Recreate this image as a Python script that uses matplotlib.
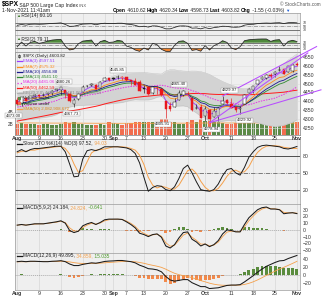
import matplotlib
matplotlib.use('Agg')
import matplotlib.pyplot as plt
import numpy as np
import pandas as pd

plt.rcParams['font.family'] = ['Liberation Sans', 'DejaVu Sans']

# ---------------- data ----------------
dates = [d for d in pd.bdate_range('2021-08-02', '2021-11-01')
         if d != pd.Timestamp('2021-09-06')]          # Labor Day closed

tick_dates = ['2021-08-02', '2021-08-09', '2021-08-16', '2021-08-23', '2021-08-30',
              '2021-09-01', '2021-09-07', '2021-09-13', '2021-09-20', '2021-09-27',
              '2021-10-01', '2021-10-11', '2021-10-18', '2021-10-25', '2021-11-01']
tick_labels = ['Aug', '9', '16', '23', '30', 'Sep', '7', '13', '20', '27',
               'Oct', '11', '18', '25', 'Nov']
months = ['Aug', 'Sep', 'Oct', 'Nov']

prev_close = 4395.26   # Jul 30 close, colours the first bar

open_ = [4406.86, 4392.74, 4415.95, 4408.86, 4429.07,
         4437.77, 4435.79, 4442.18, 4446.08, 4464.84,
         4461.65, 4462.12, 4440.94, 4382.44, 4410.56,
         4450.29, 4484.40, 4490.45, 4493.75, 4474.10,
         4513.76, 4529.75, 4528.80, 4534.48, 4532.42,
         4535.38, 4518.09, 4513.02, 4506.92,
         4474.81, 4479.33, 4447.49, 4477.09, 4469.74,
         4402.95, 4374.45, 4367.43, 4406.75, 4438.04,
         4442.12, 4419.54, 4362.41, 4370.67, 4317.16,
         4348.84, 4309.87, 4319.57, 4383.73, 4406.51,
         4385.44, 4368.31, 4358.01, 4386.75, 4447.69,
         4463.72, 4497.34, 4524.42, 4532.24, 4546.12,
         4553.69, 4578.69, 4580.22, 4562.84, 4572.87,
         4610.62]
high = [4422.18, 4423.79, 4416.17, 4429.76, 4440.82,
        4439.39, 4445.21, 4449.44, 4461.77, 4468.37,
        4480.26, 4462.12, 4454.32, 4418.61, 4444.35,
        4489.88, 4492.81, 4501.71, 4495.90, 4513.33,
        4537.36, 4531.39, 4537.11, 4545.85, 4541.45,
        4535.38, 4521.79, 4529.90, 4520.47,
        4492.99, 4485.68, 4486.87, 4485.87, 4471.52,
        4402.95, 4394.87, 4416.75, 4465.40, 4463.12,
        4457.30, 4419.54, 4385.57, 4382.55, 4375.19,
        4355.51, 4369.23, 4365.57, 4429.97, 4412.02,
        4415.88, 4374.89, 4372.87, 4439.73, 4475.82,
        4488.75, 4520.40, 4540.87, 4551.44, 4559.67,
        4572.62, 4598.53, 4584.57, 4597.55, 4608.08,
        4620.34]
low = [4384.81, 4373.00, 4400.23, 4408.86, 4429.07,
       4424.74, 4430.03, 4436.42, 4435.96, 4460.82,
       4437.66, 4417.83, 4397.59, 4367.73, 4406.80,
       4450.29, 4482.28, 4485.66, 4468.99, 4474.10,
       4513.76, 4515.80, 4522.02, 4524.66, 4521.94,
       4513.00, 4493.95, 4492.07, 4457.66,
       4445.70, 4435.46, 4438.37, 4443.80, 4427.76,
       4305.91, 4347.96, 4367.43, 4406.75, 4430.27,
       4436.19, 4346.33, 4355.08, 4306.24, 4288.52,
       4278.94, 4309.87, 4290.49, 4383.73, 4386.22,
       4360.59, 4342.09, 4329.92, 4386.75, 4447.69,
       4447.47, 4496.41, 4524.40, 4526.89, 4524.00,
       4537.36, 4569.17, 4551.66, 4562.84, 4567.59,
       4598.73]
close = [4387.16, 4423.15, 4402.66, 4429.10, 4436.52,
         4432.35, 4436.75, 4447.70, 4460.83, 4468.00,
         4479.71, 4448.08, 4400.27, 4405.80, 4441.67,
         4479.53, 4486.23, 4496.19, 4470.00, 4509.37,
         4528.79, 4522.68, 4524.09, 4536.95, 4535.43,
         4520.03, 4514.07, 4493.28, 4458.58,
         4468.73, 4443.05, 4480.70, 4473.75, 4432.99,
         4357.73, 4354.19, 4395.64, 4448.98, 4455.48,
         4443.11, 4352.63, 4359.46, 4307.54, 4357.04,
         4300.46, 4345.72, 4363.55, 4399.76, 4391.34,
         4361.19, 4350.65, 4363.80, 4438.26, 4471.37,
         4486.46, 4519.63, 4536.19, 4549.78, 4544.90,
         4566.48, 4574.79, 4551.68, 4596.42, 4605.38,
         4603.82]

# volume, billions
volume = [2.00, 2.10, 1.95, 1.85, 1.90,
          1.75, 1.90, 1.85, 1.80, 1.70,
          2.00, 2.25, 2.15, 2.30, 1.95,
          1.90, 1.75, 1.80, 1.75, 1.95,
          1.75, 2.35, 2.05, 1.95, 1.80,
          2.10, 2.15, 2.25, 2.20,
          2.35, 2.30, 2.20, 2.30, 2.75,
          2.80, 2.35, 2.20, 2.00, 1.85,
          2.20, 2.60, 2.35, 2.85, 2.50,
          2.60, 2.20, 2.30, 2.15, 1.90,
          1.90, 2.05, 2.15, 2.30, 2.55,
          2.05, 2.00, 2.15, 2.20, 2.20,
          2.25, 2.45, 2.65, 2.40, 2.70,
          2.30]
vol_sma50 = [2.12, 2.12, 2.11, 2.11, 2.10,
             2.10, 2.09, 2.09, 2.08, 2.08,
             2.08, 2.08, 2.08, 2.08, 2.07,
             2.07, 2.06, 2.06, 2.05, 2.05,
             2.05, 2.05, 2.05, 2.04, 2.04,
             2.04, 2.04, 2.04, 2.04,
             2.04, 2.05, 2.05, 2.05, 2.06,
             2.07, 2.07, 2.07, 2.07, 2.07,
             2.07, 2.08, 2.08, 2.09, 2.09,
             2.10, 2.10, 2.10, 2.10, 2.10,
             2.10, 2.10, 2.10, 2.11, 2.11,
             2.11, 2.11, 2.11, 2.11, 2.11,
             2.10, 2.10, 2.09, 2.09, 2.08,
             2.08]

ema3 = [4395, 4409, 4406, 4418, 4427, 4430, 4433, 4440, 4451, 4459,
        4470, 4459, 4430, 4418, 4430, 4455, 4471, 4483, 4477, 4493,
        4511, 4517, 4520, 4528, 4532, 4526, 4520, 4507, 4483,
        4476, 4460, 4470, 4472, 4452, 4405, 4380, 4388, 4418, 4437,
        4440, 4396, 4378, 4343, 4350, 4325, 4335, 4349, 4374, 4383,
        4372, 4361, 4362, 4400, 4436, 4461, 4490, 4513, 4531, 4538,
        4552, 4563, 4557, 4577, 4591, 4597.51]
ema7 = [4398, 4404, 4404, 4410, 4417, 4421, 4425, 4431, 4438, 4446,
        4454, 4453, 4440, 4431, 4434, 4445, 4455, 4465, 4466, 4477,
        4490, 4498, 4505, 4513, 4519, 4519, 4518, 4512, 4499,
        4491, 4479, 4479, 4478, 4467, 4440, 4418, 4413, 4422, 4430,
        4433, 4413, 4400, 4377, 4372, 4354, 4352, 4355, 4366, 4372,
        4369, 4364, 4364, 4383, 4405, 4425, 4449, 4471, 4491, 4504,
        4520, 4534, 4538, 4553, 4566, 4575.32]
ema10 = [4385, 4392, 4394, 4400, 4407, 4412, 4416, 4422, 4429, 4436,
         4444, 4445, 4437, 4431, 4433, 4441, 4449, 4458, 4460, 4469,
         4480, 4488, 4494, 4502, 4508, 4510, 4511, 4508, 4499,
         4494, 4485, 4484, 4482, 4473, 4452, 4434, 4427, 4431, 4435,
         4437, 4422, 4411, 4392, 4386, 4370, 4366, 4366, 4372, 4375,
         4373, 4369, 4368, 4381, 4397, 4413, 4432, 4451, 4469, 4483,
         4498, 4512, 4519, 4533, 4546, 4556.88]
ema13 = [4379, 4385, 4388, 4394, 4400, 4405, 4409, 4415, 4421, 4428,
         4436, 4437, 4432, 4427, 4429, 4437, 4444, 4451, 4454, 4462,
         4472, 4479, 4485, 4492, 4498, 4502, 4503, 4501, 4495,
         4491, 4484, 4483, 4482, 4475, 4457, 4442, 4435, 4438, 4440,
         4441, 4429, 4419, 4402, 4396, 4382, 4377, 4375, 4379, 4380,
         4378, 4374, 4372, 4382, 4395, 4409, 4425, 4441, 4457, 4470,
         4484, 4497, 4505, 4518, 4530, 4541.10]
ma20 = [4367.6, 4371.6, 4373.8, 4379.2, 4382.6, 4385.0, 4388.3, 4392.0, 4397.0, 4404.1,
        4415.1, 4421.4, 4423.5, 4425.4, 4426.9, 4429.7, 4434.0, 4438.7, 4441.3, 4447.0,
        4454.1, 4459.0, 4465.1, 4470.5, 4475.4, 4479.8, 4483.7, 4486.0, 4485.8,
        4485.9, 4484.0, 4485.7, 4489.3, 4490.7, 4486.5, 4480.2, 4475.7, 4473.3, 4472.6,
        4469.3, 4460.5, 4452.3, 4441.5, 4432.5, 4420.7, 4412.0, 4404.5, 4399.8, 4396.4,
        4391.1, 4386.4, 4380.6, 4378.8, 4380.7, 4387.2, 4395.4, 4402.5, 4407.5, 4412.0,
        4418.1, 4429.3, 4438.9, 4453.3, 4465.7, 4481.06]
ma50 = [4288.3, 4293.6, 4297.8, 4302.6, 4307.4, 4312.0, 4316.7, 4321.6, 4326.6, 4332.1,
        4337.1, 4341.6, 4345.0, 4348.8, 4352.8, 4357.5, 4362.1, 4367.1, 4372.0, 4377.8,
        4385.0, 4391.0, 4396.5, 4402.4, 4407.8, 4412.6, 4417.1, 4421.1, 4424.3,
        4427.3, 4429.1, 4431.9, 4434.2, 4436.4, 4436.2, 4435.6, 4436.1, 4437.6, 4439.5,
        4441.8, 4443.7, 4444.4, 4443.4, 4443.2, 4440.9, 4439.4, 4438.6, 4438.6, 4438.1,
        4437.4, 4436.6, 4435.5, 4436.2, 4437.0, 4438.0, 4439.8, 4441.8, 4443.8, 4445.5,
        4447.4, 4449.3, 4451.4, 4455.3, 4459.3, 4462.59]
# Bollinger band half width (2 sigma) around MA(20)
bb_half = [77, 80, 79, 81, 82, 80, 80, 80, 80, 79,
           74, 62, 56, 52, 50, 52, 55, 59, 60, 64,
           70, 74, 77, 80, 82, 80, 78, 77, 78,
           78, 76, 72, 66, 63, 84, 98, 102, 100, 98,
           100, 110, 118, 126, 128, 131, 126, 120, 112, 105,
           100, 97, 94, 92, 94, 102, 116, 130, 142, 150,
           160, 168, 173, 179, 183, 185.52]

# annotated highs / lows
ann_dates = ['2021-08-03', '2021-08-16', '2021-08-19', '2021-09-02', '2021-09-20',
             '2021-09-23', '2021-10-04', '2021-10-07', '2021-10-13']
ann_kind = ['low', 'high', 'low', 'high', 'low', 'high', 'low', 'high', 'low']

# user-drawn trend lines: two anchor points each
trend_a = [('2021-10-04', 4278.94), ('2021-10-07', 4429.97), ('2021-10-04', 4278.94)]
trend_b = [('2021-10-22', 4524.00), ('2021-10-26', 4598.53), ('2021-10-13', 4329.92)]

rsi14 = [55, 60, 56, 61, 62, 61, 62, 64, 66, 67,
         69, 60, 49, 50, 56, 62, 63, 64, 58, 64,
         67, 65, 65, 67, 67, 62, 60, 55, 47,
         50, 45, 52, 51, 44, 35, 35, 43, 51, 52,
         50, 39, 40, 35, 42, 36, 42, 45, 50, 49,
         45, 44, 46, 56, 60, 61, 65, 67, 68, 67,
         69, 70, 65, 70, 71, 69.16]
rsi2 = [40, 75, 45, 72, 80, 65, 72, 82, 90, 93,
        95, 45, 15, 22, 62, 82, 86, 90, 45, 78,
        88, 72, 75, 88, 82, 45, 35, 15, 5,
        30, 15, 65, 55, 20, 5, 4, 50, 80, 84,
        65, 12, 18, 6, 48, 15, 48, 62, 85, 72,
        30, 18, 40, 85, 92, 95, 97, 98, 98, 80,
        90, 93, 45, 80, 88, 79.11]

sto_k = [88, 92, 88, 92, 94, 94, 95, 96, 97, 98,
         98, 88, 66, 43, 44, 75, 90, 92, 90, 93,
         97, 97, 97, 97, 96, 95, 92, 85, 68,
         42, 17, 24, 27, 26, 20, 18, 25, 40, 58,
         64, 50, 34, 20, 18, 17, 20, 30, 45, 56,
         58, 50, 46, 60, 78, 88, 96, 99, 100, 99,
         98, 97, 94, 93, 95, 97.52]
sto_d = [86, 89, 89, 91, 91, 93, 94, 95, 96, 97,
         97.7, 94, 84, 66, 51, 54, 70, 86, 91, 92,
         93, 95, 97, 97, 97, 96, 94, 91, 82,
         65, 42, 28, 23, 26, 24, 21, 21, 28, 41,
         54, 57, 49, 35, 24, 18, 18, 22, 32, 44,
         53, 55, 51, 52, 61, 76, 87, 94, 98, 99,
         99, 98, 96, 95, 94, 94.03]

macd_fast = [7, 8, 7, 8, 9, 9, 9, 10, 11, 12,
             13.5, 10, -1, -4, -2, 6, 9, 11, 8, 11,
             15, 16, 16, 16, 15.5, 12, 8, 3, -5,
             -7, -10, -7, -6, -11, -24, -27, -22, -12, -4,
             -3, -14, -18, -24, -21, -25, -22, -16, -6, 0,
             -1, -3, -3, 8, 18, 24, 30, 33, 34, 31,
             31, 30, 24, 25, 25.5, 24.184]
sig_fast = [7, 7.7, 7.2, 7.7, 8.6, 8.9, 9, 9.7, 10.6, 11.5,
            12.8, 10.9, 3.0, -1.7, -1.9, 3.4, 7.1, 9.7, 8.6, 10.2,
            13.4, 15.1, 15.7, 15.9, 15.6, 13.2, 9.7, 5.2, -1.6,
            -5.2, -8.4, -7.5, -6.5, -9.5, -19.2, -24.4, -22.8, -15.6, -7.9,
            -4.6, -10.9, -15.6, -21.2, -21.1, -23.7, -22.6, -18.2, -10.1, -3.4,
            -1.8, -2.6, -2.9, 4.4, 13.5, 20.5, 26.8, 30.9, 33.0, 31.7,
            31.2, 30.4, 26.1, 25.4, 25.5, 24.824]
hist_fast = [0, 0.3, -0.2, 0.3, 0.4, 0.1, 0, 0.3, 0.4, 0.5,
             0.7, -0.9, -3.9, -2.3, -0.1, 2.6, 1.9, 1.3, -0.6, 0.8,
             1.6, 0.9, 0.3, 0.1, -0.1, -1.2, -1.7, -2.2, -3.4,
             -1.8, -1.6, 0.5, 0.5, -1.5, -4.8, -2.6, 0.8, 3.6, 3.9,
             1.6, -3.1, -2.4, -2.8, 0.1, -1.3, 0.6, 2.2, 4.1, 3.4,
             0.8, -0.4, -0.1, 3.6, 4.5, 3.5, 3.2, 2.1, 1.0, -0.7,
             -0.2, -0.4, -2.1, -0.4, 0, -0.641]

macd_slow = [34, 35, 34, 35, 35, 34.5, 34, 34, 35, 35.5,
             36.5, 34, 28, 24, 24, 27, 29, 31, 30, 32,
             34.5, 35.5, 36, 37, 37, 35.5, 34, 31, 25,
             21, 16, 15, 13, 8, -4, -13, -16, -14, -12,
             -12, -20, -25, -30, -30, -35, -34, -33, -30, -27,
             -26, -26, -25, -18, -10, -2, 7, 15, 22, 27,
             32, 36, 37, 42, 46, 49.895]
sig_slow = [33.5, 33.8, 33.8, 34.1, 34.3, 34.3, 34.2, 34.2, 34.4, 34.6,
            35.0, 34.8, 33.4, 31.5, 30.0, 29.4, 29.3, 29.6, 29.7, 30.2,
            31.0, 31.9, 32.7, 33.6, 34.3, 34.5, 34.4, 33.7, 32.0,
            29.8, 27.0, 24.6, 22.3, 19.4, 14.7, 9.2, 4.2, 0.6, -1.9,
            -3.9, -7.1, -10.7, -14.6, -17.7, -21.2, -23.8, -25.6, -26.5, -26.6,
            -26.5, -26.4, -26.1, -24.5, -21.6, -17.7, -12.8, -7.2, -1.4, 4.3,
            9.8, 15.1, 19.5, 24.5, 29.5, 34.859]
hist_slow = [0.5, 1.2, 0.2, 0.9, 0.7, 0.2, -0.2, -0.2, 0.6, 0.9,
             1.5, -0.8, -5.4, -7.5, -6.0, -2.4, -0.3, 1.4, 0.3, 1.8,
             3.5, 3.6, 3.3, 3.4, 2.7, 1.0, -0.4, -2.7, -7.0,
             -8.8, -11.0, -9.6, -9.3, -11.4, -18.7, -22.2, -20.2, -14.6, -10.1,
             -8.1, -12.9, -14.3, -15.4, -12.3, -13.8, -10.2, -7.4, -3.5, -0.4,
             0.5, 0.4, 1.1, 6.5, 11.6, 15.7, 19.8, 22.2, 23.4, 22.7,
             22.2, 20.9, 17.5, 17.5, 16.5, 15.035]

# ---------------- colours ----------------
C_EMA3, C_EMA7, C_EMA10, C_EMA13 = '#9b3cff', '#ff8c1a', '#1a1a8c', '#2f8a2f'
C_MA20, C_MA50, C_BB = '#e632e6', '#ff1a1a', '#9a9a9a'
C_UP, C_DN = '#1a1a1a', '#e8161b'
C_VUP, C_VDN = '#5b8a47', '#f26d4f'
C_ORANGE, C_GREEN = '#f5a04a', '#4c9a2a'
C_TREND = '#b84dff'
BG = '#efefef'

# ---------------- figure ----------------
W, H = 324, 300
fig = plt.figure(figsize=(W / 100, H / 100), dpi=100)
fig.patch.set_facecolor('white')

x = np.arange(len(dates))
didx = {d.strftime('%Y-%m-%d'): i for i, d in enumerate(dates)}
tick_idx = [didx[d] for d in tick_dates]


def panel(top, bottom):
    return fig.add_axes([15 / W, 1 - bottom / H, 285 / W, (bottom - top) / H])


def base(a, ylim, yticks, fs=3.7):
    a.set_facecolor(BG)
    a.set_xlim(-0.5, 64.7)
    a.set_ylim(*ylim)
    a.set_xticks(tick_idx)
    a.set_xticklabels([])
    a.grid(axis='x', color='#d2d2d2', lw=0.4)
    a.set_axisbelow(True)
    a.yaxis.tick_right()
    a.set_yticks(yticks)
    a.tick_params(length=0, labelsize=fs, pad=1.8, colors='#333333')
    for s in a.spines.values():
        s.set_color('#9a9a9a')
        s.set_linewidth(0.5)


def date_labels(a):
    a.set_xticklabels(tick_labels)
    a.tick_params(axis='x', labelbottom=True, labelsize=3.8, pad=0.8)
    for t in a.get_xticklabels():
        if t.get_text() in months:
            t.set_fontweight('bold')


ax_r14 = panel(12.5, 35)
ax_r2 = panel(35, 52)
ax = panel(52, 135)
ax_sto = panel(139, 203.5)
ax_m1 = panel(204, 252.5)
ax_m2 = panel(252.5, 290)

# RSI panels
for a, vals in ((ax_r14, rsi14), (ax_r2, rsi2)):
    base(a, (0, 128), [70, 50, 30], fs=2.5)
    v = np.array(vals, dtype=float)
    a.axhline(70, color='#555555', lw=0.55)
    a.axhline(30, color='#555555', lw=0.55)
    a.axhline(50, color='#777777', lw=0.45, ls='-.')
    a.fill_between(x, v, 70, where=v > 70, interpolate=True, color='#4f8a3c', lw=0)
    a.fill_between(x, v, 30, where=v < 30, interpolate=True, color='#f0842e', lw=0)
    a.plot(x, v, color='#222222', lw=0.55)

# price panel
o, h, l, c = (np.array(v, dtype=float) for v in (open_, high, low, close))
prev = np.r_[prev_close, c[:-1]]
up = c >= prev

vax = ax.twinx()
base(ax, (4210, 4678), list(range(4250, 4651, 50)))
ax.grid(axis='y', color='#dedede', lw=0.4)
vax.set_facecolor(BG)
vax.patch.set_visible(True)
ax.set_zorder(vax.get_zorder() + 1)
ax.patch.set_visible(False)
vax.bar(x, np.array(volume) * 1e9, width=0.78, color=np.where(up, C_VUP, C_VDN), lw=0)
vax.plot(x, np.array(vol_sma50) * 1e9, color=C_ORANGE, lw=0.6)
vax.set_ylim(0, 14.5e9)
vax.yaxis.tick_left()
vax.set_yticks([2e9, 4e9])
vax.set_yticklabels(['2B', '4B'])
vax.tick_params(length=0, labelsize=3.3, pad=1, colors='#333333')
for s in vax.spines.values():
    s.set_color('#9a9a9a')
    s.set_linewidth(0.5)

mid, dev = np.array(ma20), np.array(bb_half)
ax.fill_between(x, mid - dev, mid + dev, color='#d3d3d3', lw=0, zorder=1)
ax.plot(x, mid + dev, color='#bdbdbd', lw=0.3, zorder=1)
ax.plot(x, mid - dev, color='#bdbdbd', lw=0.3, zorder=1)
ax.plot(x, ma50, color=C_MA50, lw=0.7, zorder=2)
ax.plot(x, ma20, color=C_MA20, lw=0.7, ls=(0, (1.5, 1.2)), zorder=2)
ax.plot(x, ema13, color=C_EMA13, lw=0.6, zorder=2)
ax.plot(x, ema10, color=C_EMA10, lw=0.6, zorder=2)
ax.plot(x, ema7, color=C_EMA7, lw=0.6, zorder=2)
ax.plot(x, ema3, color=C_EMA3, lw=0.6, zorder=2)

edge = np.where(up, C_UP, C_DN)
face = np.where(c > o, '#ffffff', edge)
ax.vlines(x, l, h, colors=edge, lw=0.45, zorder=3)
ax.bar(x, np.maximum(np.abs(c - o), 0.8), bottom=np.minimum(o, c), width=0.56,
       color=face, edgecolor=edge, lw=0.35, zorder=4)

# trend lines, extended to the right past the last bar
for (da, pa), (db, pb), x_end in zip(trend_a, trend_b, (66.5, 68.5, 69.5)):
    ia, ib = didx[da], didx[db]
    k = (pb - pa) / (ib - ia)
    ax.plot([ia, x_end], [pa, pa + k * (x_end - ia)], color=C_TREND, lw=0.75,
            zorder=5, clip_on=False)

# high / low value boxes
ann_dx = [-8, 3, -2.5, 0, -3, 0, 2, 7, 4.5]     # px nudges
ann_dy = [-9.5, 5.5, -6.5, 5.5, -6.5, 5.5, -6.5, 5.5, -6.5]
for d, kind, dx, dy in zip(ann_dates, ann_kind, ann_dx, ann_dy):
    i = didx[d]
    val = high[i] if kind == 'high' else low[i]
    ax.annotate(f'{val:.2f}', (i, val), xytext=(dx * 0.72, dy * 0.72),
                textcoords='offset points', ha='center', va='center',
                fontsize=3.1, color='#222222', zorder=6,
                bbox=dict(boxstyle='square,pad=0.15', fc='white', ec='#999999', lw=0.3))

date_labels(ax)

# slow stochastics
base(ax_sto, (-5, 111), [80, 50, 20])
ax_sto.axhline(80, color='#4d4d4d', lw=0.7)
ax_sto.axhline(20, color='#4d4d4d', lw=0.7)
ax_sto.axhline(50, color='#4d4d4d', lw=0.5, ls='-.')
ax_sto.plot(x, sto_d, color=C_ORANGE, lw=0.7)
ax_sto.plot(x, sto_k, color='#1a1a1a', lw=0.7)

# MACD panels
for a, ylim, yt, m, s, hst, w in (
        (ax_m1, (-33.7, 38.5), list(range(-30, 31, 10)), macd_fast, sig_fast, hist_fast, 0.6),
        (ax_m2, (-38.7, 57.5), [-20, 0, 20, 40], macd_slow, sig_slow, hist_slow, 0.66)):
    base(a, ylim, yt)
    hv = np.array(hst)
    a.axhline(0, color='#8a8a8a', lw=0.4, ls=(0, (2, 1.5)))
    a.bar(x, hv, width=w, color=np.where(hv >= 0, '#5a8c3e', '#f2894a'), lw=0)
    a.plot(x, s, color=C_ORANGE, lw=0.6)
    a.plot(x, m, color='#1a1a1a', lw=0.75)
date_labels(ax_m2)

# ---------------- texts ----------------
ov = fig.add_axes([0, 0, 1, 1], zorder=20)
ov.set_xlim(0, W)
ov.set_ylim(H, 0)
ov.axis('off')
ov.patch.set_visible(False)


def chain(parts, x0, y0):
    """parts: (text, colour, weight, size) drawn one after another"""
    t = ov.text(x0, y0, parts[0][0], color=parts[0][1], fontweight=parts[0][2],
                fontsize=parts[0][3], va='center', ha='left')
    for s, col, wgt, sz in parts[1:]:
        t = ov.annotate(s, xy=(1, 0), xycoords=t, color=col, fontweight=wgt,
                        fontsize=sz, va='bottom', ha='left')
    return t


chain([('$SPX', 'black', 'bold', 4.8),
       (' S&P 500 Large Cap Index', '#222222', 'normal', 3.6),
       (' INX', '#555555', 'normal', 3.0)], 1.5, 4.2)
ov.text(321, 4.2, '\u00a9 StockCharts.com', fontsize=3.3, color='#555555',
        ha='right', va='center')
ov.text(1.5, 10.3, '1-Nov-2021 11:41am', fontsize=3.7, color='#222222', va='center')
chain([('Open', 'black', 'bold', 3.65), (' 4610.62 ', '#222222', 'normal', 3.65),
       ('High', 'black', 'bold', 3.65), (' 4620.34 ', '#222222', 'normal', 3.65),
       ('Low', 'black', 'bold', 3.65), (' 4598.73 ', '#222222', 'normal', 3.65),
       ('Last', 'black', 'bold', 3.65), (' 4603.82 ', '#222222', 'normal', 3.65),
       ('Chg', 'black', 'bold', 3.65), (' -1.55 (-0.03%) ', '#222222', 'normal', 3.65),
       ('\u25bc', '#1f5fd6', 'normal', 3.2)], 113, 10.3)

chain([('\u25b2', '#3d7a2a', 'normal', 3.0), (' RSI(14) 60.16', '#222222', 'normal', 3.5)], 16, 16)
chain([('\u25b2', '#3d7a2a', 'normal', 3.0), (' RSI(2) 79.11', '#222222', 'normal', 3.5)], 16, 39.5)

legend_rows = [
    ('$SPX (Daily) 4603.82', '#222222', None, '-'),
    ('EMA(3) 4597.51', C_EMA3, C_EMA3, '-'),
    ('EMA(7) 4575.32', C_EMA7, C_EMA7, '-'),
    ('EMA(10) 4556.88', C_EMA10, C_EMA10, '-'),
    ('EMA(13) 4541.10', C_EMA13, C_EMA13, '-'),
    ('MA(20) 4481.06', C_MA20, C_MA20, ':'),
    ('MA(50) 4462.59', C_MA50, C_MA50, '-'),
    ('BB(20,2.0) 4295.54 - 4481.06 - 4666.58', '#8a8a8a', '#b0b0b0', '-'),
    ('Volume undef', '#222222', C_VUP, 'sq'),
    ('Volume undef', '#222222', C_VDN, 'sq'),
    ('SMA(50) 2,082,908,672', '#e08a1a', C_ORANGE, '-'),
]
for k, (txt, tcol, mcol, style) in enumerate(legend_rows):
    yy = 56 + 5.3 * k
    if k == 0:
        ov.vlines(19, yy - 2.2, yy + 2.2, color='#222222', lw=0.4)
        ov.add_patch(plt.Rectangle((17.8, yy - 1.2), 2.4, 2.4, fc='white', ec='#222222', lw=0.4))
    elif style == 'sq':
        ov.add_patch(plt.Rectangle((17.5, yy - 1.4), 3, 2.8, fc=mcol, lw=0))
    else:
        ov.plot([16.5, 21.5], [yy, yy], color=mcol, lw=0.9, ls=style)
    ov.text(23, yy, txt, color=tcol, fontsize=3.15, va='center', ha='left')

ov.plot([16.5, 21.5], [143.5, 143.5], color='#1a1a1a', lw=0.9)
chain([('Slow STO %K(14) %D(3) 97.52,', '#222222', 'normal', 3.5),
       (' 94.03', C_ORANGE, 'normal', 3.5)], 23, 143.5)
ov.plot([16.5, 21.5], [207.5, 207.5], color='#1a1a1a', lw=0.9)
chain([('MACD(5,9,2) 24.184,', '#222222', 'normal', 3.5),
       (' 24.824,', C_ORANGE, 'normal', 3.5),
       (' -0.641', C_GREEN, 'normal', 3.5)], 23, 207.5)
ov.plot([16.5, 21.5], [256, 256], color='#1a1a1a', lw=0.9)
chain([('MACD(12,26,9) 49.895,', '#222222', 'normal', 3.5),
       (' 34.859,', C_ORANGE, 'normal', 3.5),
       (' 15.035', C_GREEN, 'normal', 3.5)], 23, 256)

fig.savefig('out.png', dpi=100, facecolor='white')
